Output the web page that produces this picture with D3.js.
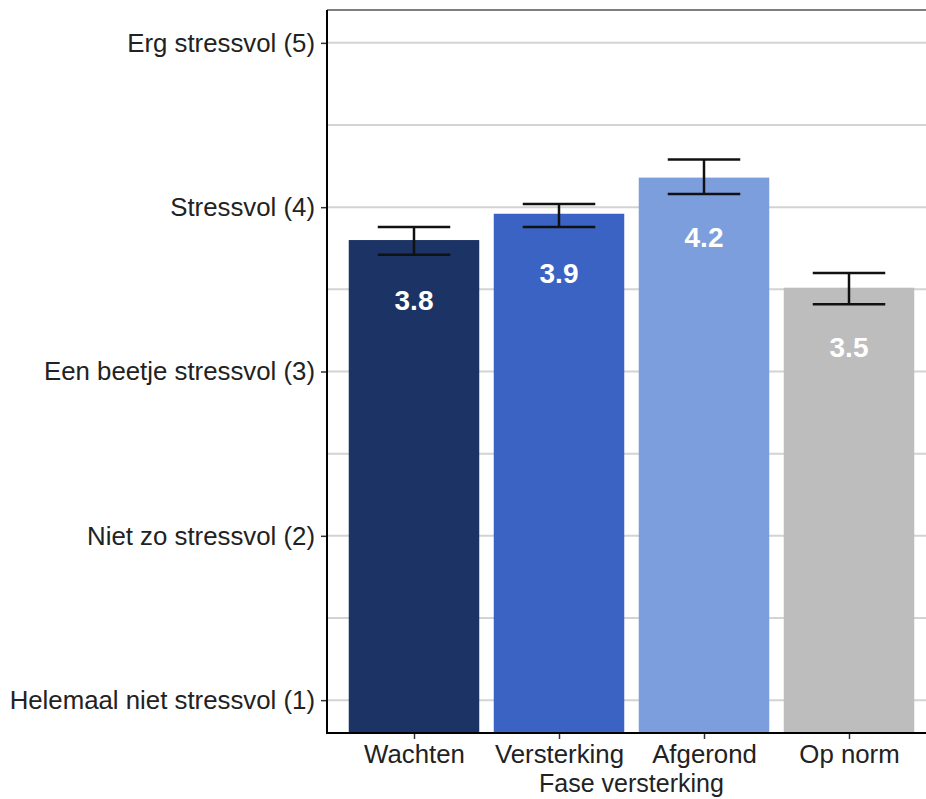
<!DOCTYPE html>
<html><head><meta charset="utf-8">
<script src="https://cdn.jsdelivr.net/npm/d3@7"></script>
<style>body{margin:0;background:#fff}svg{display:block}text{font-family:"Liberation Sans",Arial,sans-serif}</style>
</head><body>
<svg id="c" width="926" height="799"></svg>
<script>
const categories = ["Wachten","Versterking","Afgerond","Op norm"];
const means = [3.80, 3.96, 4.18, 3.51];
const ciLow = [3.71, 3.88, 4.08, 3.41];
const ciHigh = [3.88, 4.02, 4.29, 3.60];
const labels = ["3.8","3.9","4.2","3.5"];
const colors = ["#1c3366","#3a63c3","#7d9edd","#bdbdbd"];
const yTicks = [1,2,3,4,5];
const yTickLabels = ["Helemaal niet stressvol (1)","Niet zo stressvol (2)","Een beetje stressvol (3)","Stressvol (4)","Erg stressvol (5)"];
const yMinor = [1.5,2.5,3.5,4.5];
const xTitle = "Fase versterking";

const svg = d3.select("#c");
const L = 327, R = 936, T = 10, B = 733;
const y = d3.scaleLinear().domain([0.8,5.2]).range([B,T]);
const x = d3.scalePoint().domain(categories).range([L,R]).padding(0.6);
const step = x.step();
const bw = step*0.9, ew = step*0.5;

const g = svg.append("g");
g.selectAll(".gmin").data(yMinor).join("line")
  .attr("x1",L).attr("x2",R).attr("y1",d=>y(d)).attr("y2",d=>y(d))
  .attr("stroke","#d3d3d3").attr("stroke-width",2);
g.selectAll(".gmaj").data(yTicks).join("line")
  .attr("x1",L).attr("x2",R).attr("y1",d=>y(d)).attr("y2",d=>y(d))
  .attr("stroke","#d3d3d3").attr("stroke-width",2);
g.append("line").attr("x1",L).attr("x2",R).attr("y1",T).attr("y2",T).attr("stroke","#555").attr("stroke-width",1.5);

g.selectAll(".bar").data(categories).join("rect")
  .attr("x",d=>x(d)-bw/2).attr("width",bw)
  .attr("y",(d,i)=>y(means[i])).attr("height",(d,i)=>B-y(means[i]))
  .attr("fill",(d,i)=>colors[i]);

categories.forEach((c,i)=>{
  const cx = x(c);
  const eg = g.append("g").attr("stroke","#111").attr("stroke-width",2.5);
  eg.append("line").attr("x1",cx).attr("x2",cx).attr("y1",y(ciLow[i])).attr("y2",y(ciHigh[i]));
  eg.append("line").attr("x1",cx-ew/2).attr("x2",cx+ew/2).attr("y1",y(ciLow[i])).attr("y2",y(ciLow[i]));
  eg.append("line").attr("x1",cx-ew/2).attr("x2",cx+ew/2).attr("y1",y(ciHigh[i])).attr("y2",y(ciHigh[i]));
});

g.selectAll(".vl").data(categories).join("text")
  .attr("x",d=>x(d)).attr("y",(d,i)=>y(means[i])+60)
  .attr("text-anchor","middle").attr("dominant-baseline","central")
  .attr("fill","#fff").attr("font-weight","bold").attr("font-size",28)
  .text((d,i)=>labels[i]);

const ya = d3.axisLeft(y).tickValues(yTicks).tickSize(6).tickPadding(6).tickFormat((d,i)=>yTickLabels[i]);
const yg = svg.append("g").attr("transform",`translate(${L},0)`).call(ya);
yg.select(".domain").remove();
yg.selectAll(".tick line").attr("stroke","#333").attr("stroke-width",1.5);
yg.selectAll(".tick text").attr("font-size",25.8).attr("fill","#222").attr("font-family","Liberation Sans, Arial, sans-serif");
svg.append("line").attr("x1",L).attr("x2",L).attr("y1",T).attr("y2",B+1).attr("stroke","#000").attr("stroke-width",2);

const xa = d3.axisBottom(x).tickSize(6).tickPadding(6);
const xg = svg.append("g").attr("transform",`translate(0,${B})`).call(xa);
xg.select(".domain").remove();
xg.selectAll(".tick line").attr("stroke","#333").attr("stroke-width",1.5);
xg.selectAll(".tick text").attr("font-size",25.8).attr("fill","#222").attr("font-family","Liberation Sans, Arial, sans-serif");
svg.append("line").attr("x1",L-1).attr("x2",R).attr("y1",B).attr("y2",B).attr("stroke","#000").attr("stroke-width",2);

svg.append("text").attr("x",(L+R)/2).attr("y",792).attr("text-anchor","middle")
  .attr("font-size",25).attr("fill","#222").text(xTitle);
</script>
</body></html>
